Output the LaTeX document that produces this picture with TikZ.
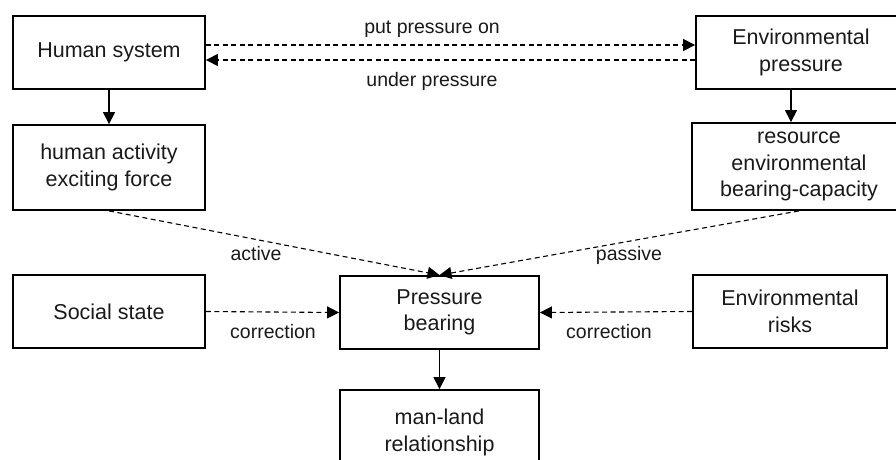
\documentclass[tikz,border=0pt]{standalone}
\usepackage{fontspec}
\setmainfont{Liberation Sans}
\usetikzlibrary{arrows.meta,calc}
\definecolor{txt}{HTML}{1A1A1A}
\tikzset{
  box/.style={draw=black, line width=1.8pt, minimum width=#1, inner sep=0pt, align=center, text=txt,
    font=\fontsize{21.5}{26.5}\selectfont},
  lbl/.style={text=txt, font=\fontsize{19.5}{23}\selectfont, inner sep=0pt, anchor=base},
  conn/.style={line width=1.1pt, -{Triangle[length=12pt,width=12pt]}},
  dconn/.style={conn, dash pattern=on 5pt off 3.5pt},
}
\begin{document}
\begin{tikzpicture}[x=1pt,y=-1pt]
\useasboundingbox (0,0) rectangle (896,459);
\clip (0,0) rectangle (896,459);
\fill[white] (0,0) rectangle (896,459);
% boxes
\node[box=192pt, minimum height=73pt] (hs) at (109,52.5) {Human system};
\node[box=192pt, minimum height=85pt] (ha) at (109,167.5) {human activity\\exciting force};
\node[box=210pt, minimum height=73pt] (ep) at (801,52.5) {Environmental\\pressure};
\node[box=214pt, minimum height=87pt] (rb) at (799,166.5) {resource\\environmental\\bearing-capacity};
\node[box=192pt, minimum height=73pt] (ss) at (109,311.5) {Social state};
\node[box=199pt, minimum height=73pt] (pb) at (439.5,312.5) {Pressure\\bearing};
\node[box=199pt, minimum height=85pt] (ml) at (439.5,432.5) {man-land\\relationship};
\node[box=194pt, minimum height=73pt] (er) at (790,311.5) {Environmental\\risks};
% connectors
\draw[dconn] ($(hs.east)+(0,-7.5)$) -- ($(ep.west)+(0,-7.5)$);
\draw[dconn] ($(ep.west)+(0,7.5)$) -- ($(hs.east)+(0,7.5)$);
\draw[conn] (hs.south) -- (ha.north);
\draw[conn] ($(ep.south)+(-10,0)$) -- ($(rb.north)+(-8,0)$);
\draw[dconn] (ha.south) -- (pb.north);
\draw[dconn] (rb.south) -- (pb.north);
\draw[dconn] (ss.east) -- (pb.west);
\draw[dconn] (er.west) -- (pb.east);
\draw[conn] (pb.south) -- (ml.north);
% labels
\node[lbl] (l1) at (432,33) {put pressure on};
\node[lbl] (l2) at (432,86) {under pressure};
\node[lbl] (l3) at (256,260) {active};
\node[lbl] (l4) at (629,260) {passive};
\node[lbl] (l5) at (273,338) {correction};
\node[lbl] (l6) at (609,338) {correction};
\end{tikzpicture}
\end{document}
